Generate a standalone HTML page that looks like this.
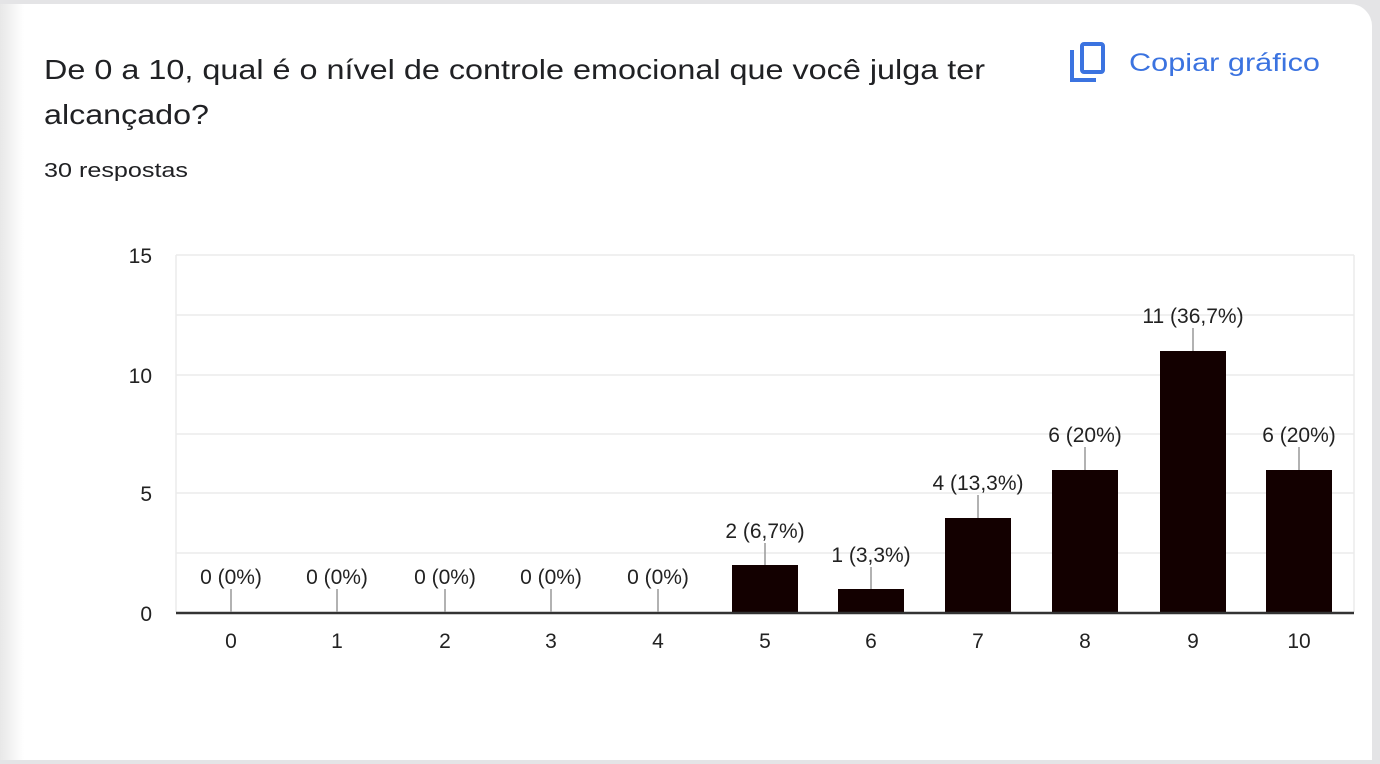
<!DOCTYPE html>
<html><head><meta charset="utf-8"><style>
body{margin:0;width:1380px;height:764px;background:#e4e4e6;overflow:hidden;font-family:"Liberation Sans",Arial,sans-serif;}
.card{position:absolute;left:0;top:4px;width:1372px;height:756px;background:#fff;border-radius:0 22px 0 0;}
.shadow{position:absolute;left:0;top:4px;width:24px;height:756px;background:linear-gradient(to right,#e8e8e8,#fff);}
</style></head><body>
<div class="card"></div><div class="shadow"></div>
<svg width="1380" height="764" style="position:absolute;left:0;top:0" font-family="Liberation Sans, Arial, sans-serif">
<text x="44" y="79" font-size="28" fill="#202124" textLength="941" lengthAdjust="spacingAndGlyphs">De 0 a 10, qual é o nível de controle emocional que você julga ter</text>
<text x="44" y="124" font-size="28" fill="#202124" textLength="165" lengthAdjust="spacingAndGlyphs">alcançado?</text>
<text x="44" y="177" font-size="20" fill="#202124" textLength="144" lengthAdjust="spacingAndGlyphs">30 respostas</text>
<g fill="none" stroke="#3b73e0" stroke-width="4">
<rect x="1082" y="44" width="21" height="28" rx="2"/>
<path d="M1072 50 V80 H1096"/>
</g>
<text x="1129" y="71" font-size="25" fill="#3b73e0" textLength="191" lengthAdjust="spacingAndGlyphs">Copiar gráfico</text>
<g stroke="#ebebeb" stroke-width="1.5">
<line x1="176" x2="1354" y1="255" y2="255"/><line x1="176" x2="1354" y1="315" y2="315"/>
<line x1="176" x2="1354" y1="375" y2="375"/><line x1="176" x2="1354" y1="434" y2="434"/>
<line x1="176" x2="1354" y1="493" y2="493"/><line x1="176" x2="1354" y1="553" y2="553"/>
<line x1="176" x2="176" y1="255" y2="612"/><line x1="1354" x2="1354" y1="255" y2="612"/>
</g>
<g font-size="21" fill="#222" text-anchor="end">
<text x="152" y="263">15</text><text x="152" y="383">10</text><text x="152" y="501">5</text><text x="152" y="621">0</text>
</g>
<g fill="#130000">
<rect x="732" y="565" width="66" height="48"/>
<rect x="838" y="589" width="66" height="24"/>
<rect x="945" y="518" width="66" height="95"/>
<rect x="1052" y="470" width="66" height="143"/>
<rect x="1160" y="351" width="66" height="262"/>
<rect x="1266" y="470" width="66" height="143"/>
</g>
<line x1="176" x2="1354" y1="613" y2="613" stroke="#333" stroke-width="2.5"/>
<g stroke="#999" stroke-width="1.5">
<line x1="231" x2="231" y1="589" y2="612"/><line x1="337" x2="337" y1="589" y2="612"/>
<line x1="445" x2="445" y1="589" y2="612"/><line x1="551" x2="551" y1="589" y2="612"/>
<line x1="658" x2="658" y1="589" y2="612"/>
<line x1="765" x2="765" y1="543" y2="565"/><line x1="871" x2="871" y1="567" y2="589"/>
<line x1="978" x2="978" y1="495" y2="518"/><line x1="1085" x2="1085" y1="447" y2="470"/>
<line x1="1193" x2="1193" y1="328" y2="351"/><line x1="1299" x2="1299" y1="447" y2="470"/>
</g>
<g font-size="21" fill="#222" text-anchor="middle">
<text x="231" y="584">0 (0%)</text><text x="337" y="584">0 (0%)</text><text x="445" y="584">0 (0%)</text>
<text x="551" y="584">0 (0%)</text><text x="658" y="584">0 (0%)</text>
<text x="765" y="538">2 (6,7%)</text><text x="871" y="562">1 (3,3%)</text>
<text x="978" y="490">4 (13,3%)</text><text x="1085" y="442">6 (20%)</text>
<text x="1193" y="323">11 (36,7%)</text><text x="1299" y="442">6 (20%)</text>
</g>
<g font-size="21" fill="#222" text-anchor="middle">
<text x="231" y="648">0</text><text x="337" y="648">1</text><text x="445" y="648">2</text><text x="551" y="648">3</text>
<text x="658" y="648">4</text><text x="765" y="648">5</text><text x="871" y="648">6</text><text x="978" y="648">7</text>
<text x="1085" y="648">8</text><text x="1193" y="648">9</text><text x="1299" y="648">10</text>
</g>
</svg>
</body></html>
